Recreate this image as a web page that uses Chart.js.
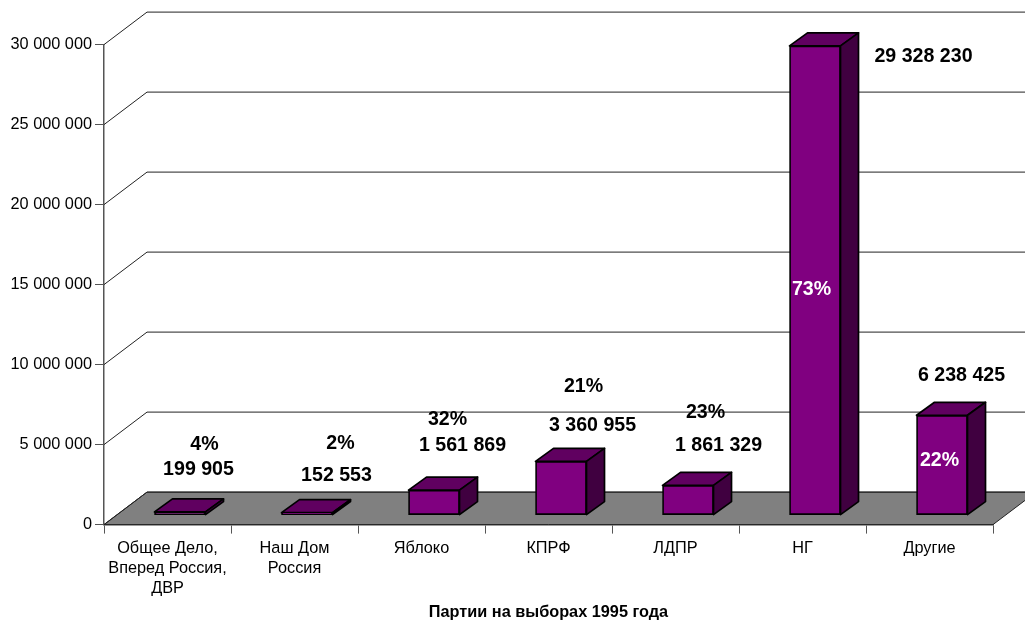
<!DOCTYPE html>
<html>
<head>
<meta charset="utf-8">
<title>Партии на выборах 1995 года</title>
<script src="https://cdn.jsdelivr.net/npm/chart.js@4/dist/chart.umd.js"></script>
<style>
body { margin: 0; background: #fff; }
canvas { display: block; }
</style>
</head>
<body>
<canvas id="chart" width="1025" height="622"></canvas>
<script>
var parties = [["Общее Дело,", "Вперед Россия,", "ДВР"], ["Наш Дом", "Россия"], "Яблоко", "КПРФ", "ЛДПР", "НГ", "Другие"];
var votes = [199905, 152553, 1561869, 3360955, 1861329, 29328230, 6238425];
var shares = [4, 2, 32, 21, 23, 73, 22];
var axisTitle = "Партии на выборах 1995 года";

// hand placed in the original, relative to the category centre and the value pixel
var voteOffsets = [[31, -52], [42, -47], [41, -54], [44, -45], [43, -49], [121, 1], [32, -49]];
var shareOffsets = [[37, -77], [46, -79], [26, -80], [35, -84], [30, -82], [9, 234], [10, 36]];
var whiteShares = [5, 6];

// 3d look
var wallDx = 43, wallDy = -32.5;   // depth of floor and walls
var barDx = 18, barDy = -13;       // depth of a bar
var shiftX = 12.5, shiftY = -9.5;  // front of a bar against the axis plane
var lineColor = "#555";

function spaced(n){
    return String(n).replace(/\B(?=(\d{3})+(?!\d))/g, " ");
}

var wall = {
    id: "wall",
    beforeDatasetsDraw: function(chart){
        let c = chart.ctx, xs = chart.scales.x, ys = chart.scales.y;
        let y0 = ys.getPixelForValue(0);
        c.save();
        // floor
        c.beginPath();
        c.moveTo(xs.left, y0);
        c.lineTo(xs.left + wallDx, y0 + wallDy);
        c.lineTo(xs.right + wallDx, y0 + wallDy);
        c.lineTo(xs.right, y0);
        c.closePath();
        c.fillStyle = "#808080";
        c.fill();
        c.strokeStyle = "#222";
        c.lineWidth = 1;
        c.stroke();
        // gridlines, left wall then back wall
        ys.ticks.forEach(function(t){
            let y = ys.getPixelForValue(t.value);
            c.beginPath();
            c.moveTo(xs.left, y);
            c.lineTo(xs.left + wallDx, y + wallDy);
            c.lineTo(chart.width, y + wallDy);
            c.strokeStyle = "#222";
            c.stroke();
        });
        c.restore();
    },
    beforeDatasetDraw: function(chart, args){
        let c = chart.ctx;
        c.save();
        c.translate(shiftX, shiftY);
        c.lineWidth = 1.7;
        c.strokeStyle = "#000";
        c.lineJoin = "round";
        args.meta.data.forEach(function(bar){
            let l = bar.x - bar.width / 2, r = bar.x + bar.width / 2;
            // top
            c.beginPath();
            c.moveTo(l, bar.y);
            c.lineTo(l + barDx, bar.y + barDy);
            c.lineTo(r + barDx, bar.y + barDy);
            c.lineTo(r, bar.y);
            c.closePath();
            c.fillStyle = "#600060";
            c.fill();
            c.stroke();
            // side
            c.beginPath();
            c.moveTo(r, bar.y);
            c.lineTo(r + barDx, bar.y + barDy);
            c.lineTo(r + barDx, bar.base + barDy);
            c.lineTo(r, bar.base);
            c.closePath();
            c.fillStyle = "#400040";
            c.fill();
            c.stroke();
        });
    },
    afterDatasetDraw: function(chart){
        chart.ctx.restore();
    },
    afterDatasetsDraw: function(chart){
        let c = chart.ctx, xs = chart.scales.x, ys = chart.scales.y;
        c.save();
        c.font = "bold 19.6px 'Liberation Sans'";
        c.textAlign = "center";
        c.textBaseline = "middle";
        votes.forEach(function(v, i){
            let x = xs.getPixelForValue(i), y = ys.getPixelForValue(v);
            c.fillStyle = "#000";
            c.fillText(spaced(v), x + voteOffsets[i][0], y + voteOffsets[i][1]);
            c.fillStyle = whiteShares.indexOf(i) >= 0 ? "#fff" : "#000";
            c.fillText(shares[i] + "%", x + shareOffsets[i][0], y + shareOffsets[i][1]);
        });
        c.restore();
    }
};

new Chart(document.getElementById("chart"), {
    type: "bar",
    data: {
        labels: parties,
        datasets: [{
            data: votes,
            backgroundColor: "#800080",
            borderColor: "#000",
            borderWidth: 1.7,
            borderSkipped: false,
            barThickness: 51,
            clip: false
        }]
    },
    plugins: [wall],
    options: {
        responsive: false,
        animation: false,
        layout: { padding: { top: 44.6, right: 32 } },
        plugins: { legend: { display: false }, tooltip: { enabled: false } },
        scales: {
            x: {
                afterFit: function(s){ s.height = 97.4; },
                border: { color: lineColor, width: 1.5 },
                grid: { drawOnChartArea: false, color: lineColor, tickLength: 9, offset: true },
                ticks: { color: "#000", padding: 5, maxRotation: 0, autoSkip: false, font: { family: "'Liberation Sans'", size: 16.3, lineHeight: 1.23 } },
                title: { display: true, text: axisTitle, color: "#000", padding: { top: 0, bottom: 0 }, font: { family: "'Liberation Sans'", size: 16.3, weight: "bold" } }
            },
            y: {
                min: 0,
                max: 30000000,
                afterFit: function(s){ s.width = 104; },
                border: { color: lineColor, width: 1.5 },
                grid: { drawOnChartArea: false, color: lineColor, tickLength: 9 },
                ticks: {
                    stepSize: 5000000,
                    color: "#000",
                    padding: 3,
                    font: { family: "'Liberation Sans'", size: 16.3 },
                    callback: function(v){ return spaced(v); }
                }
            }
        }
    }
});
</script>
</body>
</html>
